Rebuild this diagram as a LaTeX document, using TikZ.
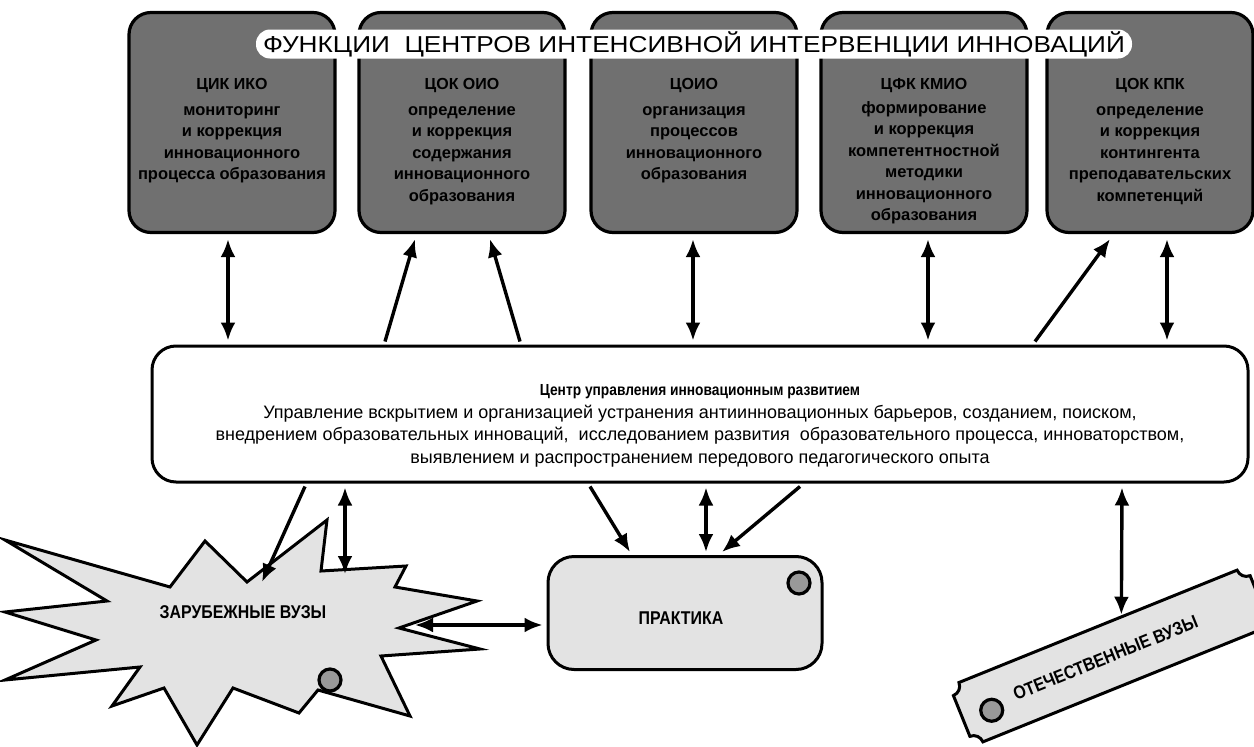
\documentclass[tikz,border=0pt]{standalone}
\usepackage{fontspec}
\setmainfont{Liberation Sans}
\newfontfamily\narrowfont[FakeStretch=0.86]{Liberation Sans}
\newfontfamily\widefont[FakeStretch=1.14]{Liberation Sans}
\usetikzlibrary{arrows.meta,calc}
\begin{document}
\begin{tikzpicture}[x=1pt,y=1pt,
 topbox/.style={draw, line width=3.2pt, rounded corners=22pt, fill=black!56, minimum width=206pt, minimum height=220pt, inner sep=0pt},
 hdr/.style={font=\bfseries\fontsize{16}{16}\selectfont, inner sep=0pt},
 body/.style={font=\bfseries\fontsize{16.5}{21.5}\selectfont, align=center, inner sep=0pt, anchor=north},
 dbl/.style={line width=3.4pt, {Latex[length=18pt,width=15pt]}-{Latex[length=18pt,width=15pt]}},
 one/.style={line width=3.4pt, -{Latex[length=18pt,width=15pt]}},
 lowfill/.style={draw, line width=3pt, fill=black!11},
 dotc/.style={circle, draw, line width=3.2pt, fill=black!40, minimum size=22pt, inner sep=0pt},
 lowtext/.style={font=\narrowfont\bfseries\fontsize{18.5}{18.5}\selectfont, inner sep=0pt}
]
\useasboundingbox (0,0) rectangle (1254,-747);
\fill[white] (0,0) rectangle (1254,-747);

% top boxes
\node[topbox] (b1) at (232,-122.5) {};
\node[topbox] (b2) at (462,-122.5) {};
\node[topbox] (b3) at (694,-122.5) {};
\node[topbox] (b4) at (924,-122.5) {};
\node[topbox] (b5) at (1150,-122.5) {};

% title band
\node[fill=white, rounded corners=14pt, minimum height=29pt, minimum width=876pt, inner sep=0pt,
      font=\widefont\fontsize{23}{23}\selectfont] (title) at (694,-44)
      {ФУНКЦИИ\ \ ЦЕНТРОВ ИНТЕНСИВНОЙ ИНТЕРВЕНЦИИ ИННОВАЦИЙ};

% box texts
\node[hdr] (h1) at (232,-86) {ЦИК ИКО};
\node[body] (t1) at (232,-106) {мониторинг\\и коррекция\\инновационного\\процесса образования};
\node[hdr] (h2) at (462,-86) {ЦОК ОИО};
\node[body] (t2) at (462,-106) {определение\\и коррекция\\содержания\\инновационного\\образования};
\node[hdr] (h3) at (694,-86) {ЦОИО};
\node[body] (t3) at (694,-106) {организация\\процессов\\инновационного\\образования};
\node[hdr] (h4) at (924,-86) {ЦФК КМИО};
\node[body] (t4) at (924,-101) {формирование\\и коррекция\\компетентностной\\методики\\инновационного\\образования};
\node[hdr] (h5) at (1150,-86) {ЦОК КПК};
\node[body] (t5) at (1150,-106) {определение\\и коррекция\\контингента\\преподавательских\\компетенций};

% central box
\node[draw, line width=3pt, rounded corners=24pt, fill=white, minimum width=1096pt, minimum height=136pt, inner sep=0pt] (c) at (700,-414) {};
\node[font=\fontsize{18}{22.5}\selectfont, align=center, inner sep=0pt] (ct) at (700,-426)
 {{\narrowfont\bfseries\fontsize{16}{22.5}\selectfont Центр управления инновационным развитием}\\
  Управление вскрытием и организацией устранения антиинновационных барьеров, созданием, поиском,\\
  внедрением образовательных инноваций,\ \ исследованием развития\ \ образовательного процесса, инноваторством,\\
  выявлением и распространением передового педагогического опыта};

% arrows top
\draw[dbl] ($(b1.south)+(-4,-5)$) -- ($(b1.south |- c.north)+(-4,4)$);
\draw[one] ($(b2.south |- c.north)+(-77,3)$) -- ($(b2.south)+(-47,-5)$);
\draw[one] ($(b2.south |- c.north)+(58,3)$) -- ($(b2.south)+(28,-5)$);
\draw[dbl] ($(b3.south)+(-1,-5)$) -- ($(b3.south |- c.north)+(-1,4)$);
\draw[dbl] ($(b4.south)+(4,-5)$) -- ($(b4.south |- c.north)+(4,4)$);
\draw[one] ($(b5.south |- c.north)+(-115,3)$) -- ($(b5.south)+(-40,-5)$);
\draw[dbl] ($(b5.south)+(17,-5)$) -- ($(b5.south |- c.north)+(17,4)$);

% starburst
\draw[lowfill, line join=miter] (5,-540) -- (107,-601) -- (5,-612) -- (96,-640) -- (5,-680) -- (140,-667)
  -- (112,-706) -- (164,-688) -- (197,-745) -- (233,-688) -- (299,-713) -- (318,-690) -- (410,-716)
  -- (381,-656) -- (480,-649) -- (399,-628) -- (477,-601) -- (395,-587) -- (406,-566) -- (321,-571)
  -- (327,-520) -- (247,-582) -- (205,-541) -- (170,-587) -- cycle;
\node[lowtext] (zv) at (243,-612) {ЗАРУБЕЖНЫЕ ВУЗЫ};
\node[dotc] (zd) at (330,-680) {};
\coordinate (zb1) at (262,-582);
\coordinate (zb2) at (345,-574);
\coordinate (zr) at (415,-625);

% practice
\node[lowfill, rounded corners=26pt, minimum width=274pt, minimum height=113pt, inner sep=0pt] (p) at (685,-613) {};
\node[lowtext] (pt) at (681,-618) {ПРАКТИКА};
\node[dotc] (pd) at (799,-583) {};

% domestic universities
\begin{scope}[shift={(1110,-656)}, rotate=22]
\draw[lowfill] (-150,32) -- (150,32) arc[start angle=180,end angle=270,radius=10] -- (160,-22)
  arc[start angle=90,end angle=180,radius=10] -- (-150,-32) arc[start angle=0,end angle=90,radius=10]
  -- (-160,22) arc[start angle=270,end angle=360,radius=10] -- cycle;
\node[dotc] (od) at (-130,-6) {};
\node[lowtext, rotate=22] (ot) at (-5,0) {ОТЕЧЕСТВЕННЫЕ ВУЗЫ};
\coordinate (otop) at (26,34);
\end{scope}

% arrows bottom
\draw[one] ($(c.south)+(-395,-3)$) -- (zb1);
\draw[dbl] ($(c.south)+(-355,-4)$) -- (zb2);
\draw[one] ($(c.south)+(-110,-3)$) -- ($(p.north)+(-55,3)$);
\draw[dbl] ($(c.south)+(6,-4)$) -- ($(p.north)+(21,3)$);
\draw[one] ($(c.south)+(100,-3)$) -- ($(p.north)+(37,3)$);
\draw[dbl] ($(c.south)+(422,-4)$) -- (otop);
\draw[dbl] (zr) -- ($(p.west)+(-4,-12)$);
\end{tikzpicture}
\end{document}
